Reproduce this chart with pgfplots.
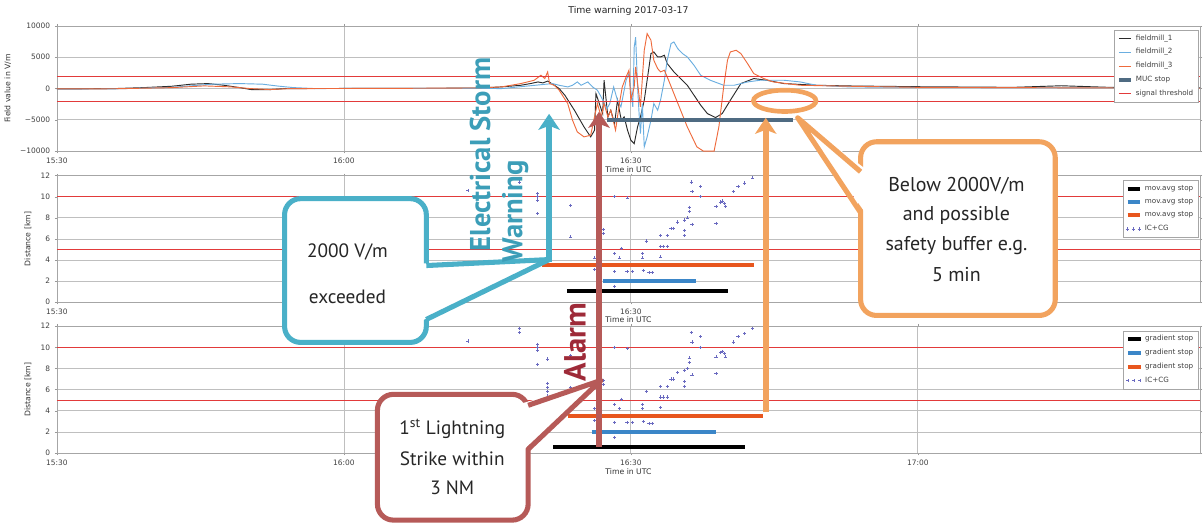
\documentclass[border=0pt]{standalone}
\usepackage{fontspec}
\setmainfont{DejaVu Sans}
\newfontfamily\annot{PT Sans}
\usepackage{pgfplots}
\pgfplotsset{compat=1.18}
\usetikzlibrary{arrows.meta}

\definecolor{fmA}{HTML}{2B2B2B}
\definecolor{fmB}{HTML}{6AAEE0}
\definecolor{fmC}{HTML}{EE6A3C}
\definecolor{muc}{HTML}{4F6B82}
\definecolor{thr}{HTML}{E23A3A}
\definecolor{stopblue}{HTML}{3B86C8}
\definecolor{stoporange}{HTML}{E8561E}
\definecolor{strike}{HTML}{6A6AC0}
\definecolor{cteal}{HTML}{4AB0C8}
\definecolor{cteal2}{HTML}{3C9EB8}
\definecolor{cred}{HTML}{B65A58}
\definecolor{cred2}{HTML}{9E2A38}
\definecolor{corange}{HTML}{F2A35E}

\pgfplotsset{
  base/.style={
    scale only axis, width=858.75pt,
    xmin=0, xmax=119.5,
    xtick={0,30,60,90}, xticklabels={15:30,16:00,16:30,17:00},
    xlabel={Time in UTC},
    scaled y ticks=false,
    grid=major,
    major grid style={color=black!25, line width=0.6pt},
    axis line style={black!35, line width=0.6pt},
    tick style={black!40, line width=0.4pt},
    tick align=outside, major tick length=1.6pt,
    tick label style={font=\fontsize{5.6}{6}\selectfont, text=black!75},
    label style={font=\fontsize{5.8}{6.5}\selectfont, text=black!80},
    xlabel style={yshift=5pt},
    legend cell align=left,
    legend style={font=\fontsize{5.4}{6}\selectfont, text=black!75, draw=black!35, fill=white,
      inner xsep=2pt, inner ysep=1.5pt, row sep=0.8pt, at={(0.999,0.965)}, anchor=north east},
    legend image code/.code={\draw[##1] (0pt,0pt) -- (9.5pt,0pt);},
  },
  stopline/.style={line width=3pt},
  strikes/.style={only marks, mark=+, color=strike, mark size=1.2pt, mark options={line width=0.45pt},
    legend image code/.code={\draw[##1] plot coordinates {(0pt,0pt)(4.5pt,0pt)(9pt,0pt)};}},
}

\pgfplotstableread{
t km
42.96 10.6
48.35 11.75
48.35 11.4
50.26 10.3
50.26 10.0
50.26 9.7
50.26 8.4
51.3 8.9
51.3 6.6
51.3 6.2
51.3 5.8
51.3 5.4
53.7 6.2
53.7 9.2
56.2 4.2
56.2 3.1
57.1 6.9
57.1 6.5
58.3 10.0
59.65 9.9
58.3 4.6
58.8 4.2
59.0 5.1
58.3 2.9
58.3 1.5
59.6 2.9
60.2 2.9
61.2 4.6
61.2 4.2
61.3 3.0
61.9 2.8
62.2 2.8
61.6 5.8
63.1 5.3
63.4 5.3
63.8 5.3
63.1 4.3
63.1 6.3
63.8 6.3
64.2 7.0
64.4 7.0
64.9 7.6
65.6 7.8
65.9 8.0
66.4 7.4
65.6 6.8
65.6 6.3
66.1 9.0
66.1 8.6
66.3 11.4
66.4 10.5
67.3 11.0
67.3 10.0
68.9 9.1
68.9 7.5
69.4 9.5
69.6 9.6
69.8 9.4
69.9 9.1
70.7 10.5
71.2 11.0
71.9 11.3
72.7 11.8
}\strikedata

\begin{document}
\begin{tikzpicture}
\begin{scope}[x=0.75pt,y=-0.75pt]
\path[use as bounding box] (0,0) rectangle (1203,523);
\end{scope}

% ---------- top axis ----------
\begin{axis}[base, at={(41.25pt,-19.5pt)}, anchor=north west, height=94.1pt,
  ymin=-10000, ymax=10000, ytick={-10000,-5000,0,5000,10000},
  yticklabels={−10000,−5000,0,5000,10000},
  ylabel={Field value in V/m},
  title={Time warning 2017-03-17},
  title style={font=\fontsize{7}{8}\selectfont, text=black!85, yshift=-2pt},
  legend style={at={(0.999,0.97)}}]
\addplot[fmA, line width=0.7pt] table {
0 -50
3 -30
6 0
9 150
12 370
14 700
15.8 800
17.4 540
19.1 160
20.3 -160
22.3 -160
23.9 0
30 20
40 50
44.3 100
46.5 270
48.5 530
49.5 800
50.3 1060
50.8 900
51.3 1200
52.0 530
52.5 0
53.1 -1060
54.1 -3460
55.1 -6120
55.8 -7710
56.2 -6650
56.35 -800
56.7 -2390
57.05 -3990
57.2 1330
57.6 -4520
57.9 -3460
58.3 -5590
58.6 -1860
59.0 -5050
59.3 -4520
59.65 -6650
60.0 -8250
60.35 -8780
60.7 -6120
61.0 -4520
61.4 -1860
61.7 1330
62.1 5590
62.4 5850
62.8 5050
63.1 5050
63.5 5320
63.8 3990
64.5 2660
65.2 1600
65.9 530
66.6 -1060
67.3 -2660
68.0 -3990
68.85 -4630
69.55 -3990
70.4 -1860
71.5 800
72.85 1600
74.2 1330
76 800
79.4 530
82.9 420
90 300
100 200
105 450
110 200
119.5 100
};
\addlegendentry{fieldmill\_1}
\addplot[fmB, line width=0.7pt] table {
0 -100
6 -50
12 200
16.2 700
19.1 800
21.5 700
23.1 400
24.7 160
27 0
35 50
45 20
46.5 0
50.0 530
51.8 800
52.5 530
53.4 260
53.9 530
54.4 1060
54.8 530
55.5 1060
56.0 260
56.5 -260
56.8 -1060
57.5 -3190
57.8 -2390
58.2 260
58.6 -1860
58.96 -2930
59.5 1330
59.8 2390
60.2 -2930
60.35 6650
60.5 8200
60.7 260
60.9 -5050
61.0 -7180
61.2 -2390
61.4 -9310
61.7 -7710
62.1 -5050
62.4 -2390
62.8 -3460
63.1 -1860
63.5 1330
63.8 4520
64.2 7180
64.5 7450
64.9 6380
65.4 5590
65.9 5050
66.6 3720
67.3 2130
68.3 1330
69.7 530
70.8 530
72.2 1060
73.5 1330
76 1330
77.7 1060
79.4 530
82.9 260
90 200
100 150
110 100
119.5 50
};
\addlegendentry{fieldmill\_2}
\addplot[fmC, line width=0.7pt] table {
0 -50
6 -30
12 150
15.4 430
18.2 270
20.2 0
22.3 -160
24.3 0
35 30
44 100
46.5 270
48.5 800
49.9 1330
50.6 2130
51.0 1600
51.3 2660
51.5 800
52.0 530
52.5 -260
53.4 -2390
53.9 -5050
54.4 -6920
55.1 -7710
55.8 -7450
56.2 -4520
56.5 -2390
56.9 -4520
57.2 -2390
57.6 -4520
57.9 -3460
58.4 -6650
58.8 -2390
59.1 260
59.5 1860
59.8 2930
60.0 -1860
60.35 260
60.5 3460
61.0 -2930
61.4 6120
61.7 8780
62.1 7710
62.4 4520
62.8 3190
63.1 2660
63.5 2930
63.8 1860
64.5 -800
65.2 -3460
65.9 -6120
66.9 -9310
67.6 -10000
68.7 -10000
69.2 -6120
69.7 260
70.1 4520
70.4 5850
71.0 6120
71.5 5590
72.2 3990
72.85 2390
73.9 1600
74.9 1060
77.7 530
82.9 370
90 200
100 150
110 100
119.5 50
};
\addlegendentry{fieldmill\_3}
\addplot[muc, line width=2.6pt] coordinates {(57.5,-5000) (77,-5000)};
\addlegendentry{MUC stop}
\addplot[thr, line width=0.7pt] coordinates {(0,2000) (119.5,2000)};
\addlegendentry{signal threshold}
\addplot[thr, line width=0.7pt, forget plot] coordinates {(0,-2000) (119.5,-2000)};
\end{axis}

% ---------- middle axis ----------
\begin{axis}[base, at={(41.25pt,-132pt)}, anchor=north west, height=95pt,
  ymin=0, ymax=12, ytick={0,2,4,6,8,10,12}, yticklabels={0,2,4,6,8,10,12},
  ylabel={Distance [km]}]
\addplot[thr, line width=0.6pt, forget plot] coordinates {(0,10) (119.5,10)};
\addplot[thr, line width=0.6pt, forget plot] coordinates {(0,5) (119.5,5)};
\addplot[black, stopline] coordinates {(53.3,1.05) (70.2,1.05)};
\addlegendentry{mov.avg stop}
\addplot[stopblue, stopline] coordinates {(57.1,2.0) (66.8,2.0)};
\addlegendentry{mov.avg stop}
\addplot[stoporange, stopline] coordinates {(50.7,3.5) (72.9,3.5)};
\addlegendentry{mov.avg stop}
\addplot[strikes] table[x=t, y=km] {\strikedata};
\addlegendentry{IC+CG}
\end{axis}

% ---------- bottom axis ----------
\begin{axis}[base, at={(41.25pt,-245pt)}, anchor=north west, height=95.5pt,
  ymin=0, ymax=12, ytick={0,2,4,6,8,10,12}, yticklabels={0,2,4,6,8,10,12},
  ylabel={Distance [km]}]
\addplot[thr, line width=0.6pt, forget plot] coordinates {(0,10) (119.5,10)};
\addplot[thr, line width=0.6pt, forget plot] coordinates {(0,5) (119.5,5)};
\addplot[black, stopline] coordinates {(51.9,0.55) (71.9,0.55)};
\addlegendentry{gradient stop}
\addplot[stopblue, stopline] coordinates {(55.9,2.0) (68.9,2.0)};
\addlegendentry{gradient stop}
\addplot[stoporange, stopline] coordinates {(53.4,3.5) (73.8,3.5)};
\addlegendentry{gradient stop}
\addplot[strikes] table[x=t, y=km] {\strikedata};
\addlegendentry{IC+CG}
\end{axis}

% ---------- annotations (pixel coordinates) ----------
\begin{scope}[x=0.75pt,y=-0.75pt]
% blue callout
\draw[cteal, line width=3.8pt, fill=white, rounded corners=12pt] (283,199) rectangle (425,343);
\fill[white] (419,264) -- (548,260) -- (419,322) -- cycle;
\draw[cteal, line width=3.8pt, line join=round] (425,266) -- (548,260) -- (425,320);
\node[font=\annot\fontsize{14.5}{16}\selectfont, text=black!85] at (346,252) {2000 V/m};
\node[font=\annot\fontsize{14.5}{16}\selectfont, text=black!85] at (346,297) {exceeded};
\draw[cteal, line width=4.5pt, -{Stealth[length=12pt,width=16pt,inset=3pt]}] (548,262) -- (548,114);
\node[rotate=90, anchor=west, text=cteal2, font=\annot\bfseries\fontsize{21.5}{22}\selectfont, inner sep=0pt] at (479,252) {Electrical Storm};
\node[rotate=90, anchor=west, text=cteal2, font=\annot\bfseries\fontsize{21.5}{22}\selectfont, inner sep=0pt] at (514,263) {Warning};

% red
\draw[cred, line width=4.5pt, -{Stealth[length=12pt,width=16pt,inset=3pt]}] (598,448) -- (598,112);
\node[rotate=90, anchor=west, text=cred2, font=\annot\bfseries\fontsize{23}{24}\selectfont, inner sep=0pt] at (574,382) {Alarm};
\draw[cred, line width=3.8pt, fill=white, rounded corners=12pt] (376,395) rectangle (527,521);
\fill[white] (521,404) -- (600,381) -- (521,452) -- cycle;
\draw[cred, line width=3.8pt, line join=round] (527,406) -- (600,381) -- (527,450);
\node[font=\annot\fontsize{14.5}{16}\selectfont, text=black!85] at (451,430) {1\textsuperscript{st} Lightning};
\node[font=\annot\fontsize{14.5}{16}\selectfont, text=black!85] at (451,460) {Strike within};
\node[font=\annot\fontsize{14.5}{16}\selectfont, text=black!85] at (451,489) {3 NM};

% orange
\draw[corange, line width=4.5pt, -{Stealth[length=12pt,width=16pt,inset=3pt]}] (765,413) -- (765,118);
\draw[corange, line width=3.5pt] (784,101) ellipse [x radius=23.5pt, y radius=8pt];
\draw[corange, line width=3.8pt, fill=white, rounded corners=12pt] (860,142) rectangle (1055,316);
\fill[white] (866,170) -- (797,118) -- (866,215) -- cycle;
\draw[corange, line width=3.8pt, line join=round] (860,172) -- (797,118) -- (860,213);
\node[font=\annot\fontsize{15}{16}\selectfont, text=black!85] at (956,186) {Below 2000V/m};
\node[font=\annot\fontsize{15}{16}\selectfont, text=black!85] at (956,216) {and possible};
\node[font=\annot\fontsize{15}{16}\selectfont, text=black!85] at (956,246) {safety buffer e.g.};
\node[font=\annot\fontsize{15}{16}\selectfont, text=black!85] at (956,275) {5 min};
\end{scope}
\end{tikzpicture}
\end{document}
